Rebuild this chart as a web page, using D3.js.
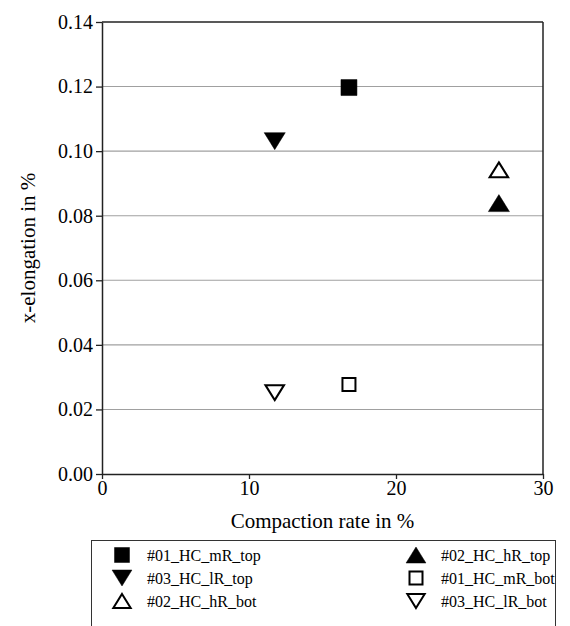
<!DOCTYPE html>
<html>
<head>
<meta charset="utf-8">
<script src="https://cdn.jsdelivr.net/npm/d3@7"></script>
<style>
  body { margin: 0; background: #fff; }
  text { font-family: "Liberation Serif", "DejaVu Serif", serif; fill: #000; }
</style>
</head>
<body>
<script>
// samples and their compaction rate
const samples = ["#01_HC_mR", "#02_HC_hR", "#03_HC_lR"];
const compaction = [16.8, 27.0, 11.75];
// x-elongation measured at top and bottom
const elongTop = [0.1197, 0.0839, 0.1031];
const elongBot = [0.0277, 0.0942, 0.0252];

const yTicks = [0, 0.02, 0.04, 0.06, 0.08, 0.10, 0.12, 0.14];
const xTicks = [0, 10, 20, 30];

// legend order, two columns
const legendOrder = [
  ["#01_HC_mR_top", "square", true], ["#02_HC_hR_top", "up", true],
  ["#03_HC_lR_top", "down", true], ["#01_HC_mR_bot", "square", false],
  ["#02_HC_hR_bot", "up", false], ["#03_HC_lR_bot", "down", false]
];

const W = 570, H = 626;
const m = { left: 102, right: 27, top: 22, bottom: 152 };
const font = "Liberation Serif";

const svg = d3.select("body").append("svg")
  .attr("width", W).attr("height", H);

const x = d3.scaleLinear().domain([0, 30]).range([m.left, W - m.right]);
const y = d3.scaleLinear().domain([0, 0.14]).range([H - m.bottom, m.top]);

// shape path centred on its bounding box
function shapePath(kind, s) {
  if (kind == "square") {
    const h = s / 2;
    return `M${-h},${-h}H${h}V${h}H${-h}Z`;
  }
  const w = s * 0.62, hh = s * 0.5;
  if (kind == "up") return `M0,${-hh}L${w},${hh}L${-w},${hh}Z`;
  return `M0,${hh}L${w},${-hh}L${-w},${-hh}Z`;
}

// grid
svg.append("g").selectAll("line")
  .data(yTicks.slice(1, -1))
  .join("line")
  .attr("x1", m.left).attr("x2", W - m.right)
  .attr("y1", d => y(d)).attr("y2", d => y(d))
  .attr("stroke", "#a0a0a0").attr("stroke-width", 1.1);

// frame top and right
svg.append("line")
  .attr("x1", m.left).attr("x2", W - m.right)
  .attr("y1", y(0.14)).attr("y2", y(0.14))
  .attr("stroke", "#222").attr("stroke-width", 1.5);
svg.append("line")
  .attr("x1", x(30)).attr("x2", x(30))
  .attr("y1", y(0.14)).attr("y2", y(0))
  .attr("stroke", "#222").attr("stroke-width", 1.5);

const yAxis = svg.append("g")
  .attr("transform", `translate(${m.left},0)`)
  .call(d3.axisLeft(y).tickValues(yTicks).tickFormat(d3.format(".2f")).tickSize(6).tickSizeOuter(0));
yAxis.selectAll("text").attr("font-size", 20).attr("x", -9);

const xAxis = svg.append("g")
  .attr("transform", `translate(0,${y(0)})`)
  .call(d3.axisBottom(x).tickValues(xTicks).tickSize(5).tickSizeOuter(0));
xAxis.selectAll("text").attr("font-size", 20).attr("y", 7);

svg.selectAll(".domain").attr("stroke", "#222").attr("stroke-width", 1.5);
svg.selectAll(".tick line").attr("stroke", "#222").attr("stroke-width", 1.3);
svg.selectAll(".tick text").attr("font-family", font);

// axis titles
svg.append("text")
  .attr("x", (m.left + W - m.right) / 2).attr("y", 528)
  .attr("text-anchor", "middle").attr("font-size", 21)
  .text("Compaction rate in %");
svg.append("text")
  .attr("transform", `translate(35,${(m.top + H - m.bottom) / 2}) rotate(-90)`)
  .attr("text-anchor", "middle").attr("font-size", 21)
  .text("x-elongation in %");

// points
const pts = [];
samples.forEach((s, i) => {
  const kind = i == 0 ? "square" : (i == 1 ? "up" : "down");
  pts.push({ name: s + "_top", kind, fill: true, cx: compaction[i], cy: elongTop[i] });
  pts.push({ name: s + "_bot", kind, fill: false, cx: compaction[i], cy: elongBot[i] });
});

svg.append("g").selectAll("path")
  .data(pts)
  .join("path")
  .attr("transform", d => `translate(${x(d.cx)},${y(d.cy)})`)
  .attr("d", d => d.kind == "square" ? shapePath(d.kind, d.fill ? 16 : 13) : shapePath(d.kind, d.fill ? 17 : 15))
  .attr("fill", d => d.fill ? "#000" : "#fff")
  .attr("stroke", "#000")
  .attr("stroke-width", d => d.fill ? 0.5 : 2);

// legend
const lg = svg.append("g");
lg.append("rect")
  .attr("x", 91.5).attr("y", 540.5).attr("width", 464).attr("height", 100)
  .attr("fill", "#fff").attr("stroke", "#333").attr("stroke-width", 1);

const item = lg.selectAll("g.item")
  .data(legendOrder)
  .join("g")
  .attr("class", "item")
  .attr("transform", (d, i) => `translate(${i % 2 == 0 ? 122 : 416},${555 + Math.floor(i / 2) * 23})`);
item.append("path")
  .attr("d", d => d[1] == "square" ? shapePath(d[1], d[2] ? 15 : 13) : shapePath(d[1], d[2] ? 16 : 14))
  .attr("fill", d => d[2] ? "#000" : "#fff")
  .attr("stroke", "#000")
  .attr("stroke-width", d => d[2] ? 0.5 : 2);
item.append("text")
  .attr("x", 25).attr("dy", "0.35em")
  .attr("font-size", 16)
  .text(d => d[0]);
</script>
</body>
</html>
